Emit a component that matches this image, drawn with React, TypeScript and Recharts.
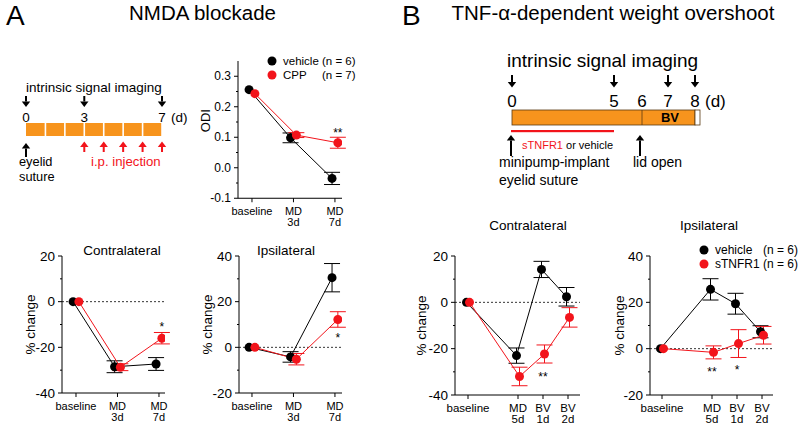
import React from 'react';
import { ComposedChart, Line, XAxis, YAxis, ErrorBar, ReferenceLine, ReferenceDot } from 'recharts';

const FONT = '"Liberation Sans", Arial, Helvetica, sans-serif';
const BLACK = '#000000';
const RED = '#f2141b';
const ORANGE = '#f7941d';

// x categories
const aCategories = ['baseline', 'MD\n3d', 'MD\n7d'];
const aSlots = [0, 1, 2];
const bCategories = ['baseline', 'MD\n5d', 'BV\n1d', 'BV\n2d'];
const bSlots = [0, 2, 3, 4];

// A - ODI
const odiVehicle = [0.256, 0.098, -0.035];
const odiVehicleErr = [0, 0.016, 0.02];
const odiCpp = [0.243, 0.107, 0.082];
const odiCppErr = [0, 0.008, 0.018];

// A - contralateral / ipsilateral (% change)
const aContraVehicle = [0, -28.5, -27.3];
const aContraVehicleErr = [0, 2.6, 2.8];
const aContraCpp = [0, -28.7, -16];
const aContraCppErr = [0, 1.5, 2.5];

const aIpsiVehicle = [0, -4.2, 30.5];
const aIpsiVehicleErr = [0, 2.3, 6.2];
const aIpsiCpp = [0, -5.2, 12.2];
const aIpsiCppErr = [0, 2.5, 3.4];

// B - contralateral / ipsilateral
const bContraVehicle = [0, -23, 14.2, 2.4];
const bContraVehicleErr = [0, 3.3, 3.5, 4];
const bContraTnf = [0, -32, -22.3, -6.5];
const bContraTnfErr = [0, 4, 3.9, 4.2];

const bIpsiVehicle = [0, 25.6, 19.4, 7.3];
const bIpsiVehicleErr = [0, 4.6, 4.5, 2.6];
const bIpsiTnf = [0, -1.6, 2.2, 5.8];
const bIpsiTnfErr = [0, 2.8, 6, 3.8];

// significance marks
const odiStars = [{ slot: 2, y: 0.115, mark: '**' }];
const aContraStars = [{ slot: 2, y: -11, mark: '*' }];
const aIpsiStars = [{ slot: 2, y: 4, mark: '*' }];
const bContraStars = [{ slot: 3, y: -32, mark: '**' }];
const bIpsiStars = [{ slot: 2, y: -10, mark: '**' }, { slot: 3, y: -9, mark: '*' }];

const odiTicks = [-0.1, -0.05, 0, 0.05, 0.1, 0.15, 0.2, 0.25, 0.3];
const contraTicks = [-40, -30, -20, -10, 0, 10, 20];
const ipsiTicks = [-20, -10, 0, 10, 20, 30, 40];

type Series = { color: string; values: number[]; errors: number[]; shift: number };
type Star = { slot: number; y: number; mark: string };

function XTick(props: any) {
  const { x, y, payload, slots, labels, fontSize } = props;
  const i = slots.indexOf(payload.value);
  const lines = (labels[i] ?? '').split('\n');
  return (
    <text x={x} y={y} textAnchor="middle" fontSize={fontSize} fill="#000">
      {lines.map((l: string, k: number) => (
        <tspan key={k} x={x} dy={k === 0 ? 10.5 : 11}>{l}</tspan>
      ))}
    </text>
  );
}

function YTick(props: any) {
  const { x, y, payload, isMajor, fmt, fontSize } = props;
  const v = payload.value;
  const major = isMajor(v);
  return (
    <g>
      <line x1={x + (major ? 3 : 5)} x2={x + 7} y1={y} y2={y} stroke="#000" strokeWidth={1} />
      {major && (
        <text x={x} y={y} textAnchor="end" dominantBaseline="central" fontSize={fontSize} fill="#000">
          {fmt(v)}
        </text>
      )}
    </g>
  );
}

function Plot(props: {
  box: { x0: number; x1: number; y0: number; y1: number };
  xDomain: number[];
  slots: number[];
  labels: string[];
  xFont: number;
  yDomain: number[];
  yTicks: number[];
  isMajor: (v: number) => boolean;
  fmt: (v: number) => string;
  yFont: number;
  yTitle: string;
  titleOffset: number;
  titleDy: number;
  titleFont: number;
  series: Series[];
  stars: Star[];
  starShift: number;
  zeroLine: boolean;
}) {
  const { box } = props;
  const ML = 50, MT = 10, MR = 12, MB = 36;
  const w = box.x1 - box.x0 + ML + MR;
  const h = box.y1 - box.y0 + MT + MB;
  const title = (p: any) => {
    const vb = p.viewBox;
    const x = vb.x + vb.width - props.titleOffset;
    const y = vb.y + vb.height / 2 + props.titleDy;
    return (
      <text x={x} y={y} transform={`rotate(-90 ${x} ${y})`} textAnchor="middle" dominantBaseline="central" fontSize={props.titleFont} fill="#000">
        {props.yTitle}
      </text>
    );
  };
  return (
    <div style={{ position: 'absolute', left: box.x0 - ML, top: box.y0 - MT }}>
      <ComposedChart width={w} height={h} margin={{ top: MT, right: MR, left: 0, bottom: 0 }}>
        <XAxis
          type="number"
          dataKey="x"
          domain={props.xDomain}
          ticks={props.slots}
          allowDataOverflow
          interval={0}
          height={MB}
          tickSize={4}
          tickLine={{ stroke: '#000' }}
          axisLine={{ stroke: '#000' }}
          tick={(p: any) => <XTick {...p} slots={props.slots} labels={props.labels} fontSize={props.xFont} />}
        />
        <YAxis
          type="number"
          domain={props.yDomain}
          ticks={props.yTicks}
          allowDataOverflow
          interval={0}
          width={ML}
          tickSize={4}
          tickMargin={3}
          tickLine={false}
          axisLine={{ stroke: '#000' }}
          tick={(p: any) => <YTick {...p} isMajor={props.isMajor} fmt={props.fmt} fontSize={props.yFont} />}
          label={title}
        />
        {props.zeroLine && <ReferenceLine y={0} stroke="#000" strokeWidth={0.8} strokeDasharray="2 2" />}
        {props.series.map((s, si) => (
          <Line
            key={si}
            data={s.values.map((v, i) => ({ x: props.slots[i] + s.shift, y: v, err: s.errors[i] }))}
            dataKey="y"
            type="linear"
            stroke={s.color}
            strokeWidth={1}
            dot={{ r: 4.5, fill: s.color, stroke: s.color, strokeWidth: 0 }}
            activeDot={false}
            isAnimationActive={false}
          >
            <ErrorBar dataKey="err" direction="y" width={8} stroke={s.color} strokeWidth={1} />
          </Line>
        ))}
        {props.stars.map((st, i) => (
          <ReferenceDot
            key={i}
            x={st.slot + props.starShift}
            y={st.y}
            r={1}
            fill="none"
            stroke="none"
            label={{ value: st.mark, position: 'center', fontSize: 12, fill: '#000' }}
          />
        ))}
      </ComposedChart>
    </div>
  );
}

const pctMajor = (v: number) => v % 20 === 0;
const pctFmt = (v: number) => String(v);
const odiMajor = (v: number) => Math.round(v * 20) % 2 === 0;
const odiFmt = (v: number) => v.toFixed(1);

function Arrow({ x, from, to, color }: { x: number; from: number; to: number; color: string }) {
  const dir = to > from ? 1 : -1;
  const head = 5.5;
  const base = to - dir * head;
  return (
    <g fill={color}>
      <rect x={x - 1} y={Math.min(from, base)} width={2} height={Math.abs(base - from)} />
      <polygon points={`${x - 4.2},${base} ${x + 4.2},${base} ${x},${to}`} />
    </g>
  );
}

const aDay = (d: number) => 26 + d * 19.43;
const aImagingDays = [0, 3, 7];
const aInjectionDays = [3, 4, 5, 6, 7];
const aBlocks = [0, 1, 2, 3, 4, 5, 6];

const bDayX: Record<number, number> = { 0: 512, 5: 614, 6: 642, 7: 668, 8: 695 };
const bImagingDays = [0, 5, 7, 8];
const bDayLabels = [0, 5, 6, 7, 8];

function Overlay() {
  return (
    <svg width={800} height={429} style={{ position: 'absolute', left: 0, top: 0, pointerEvents: 'none' }} fontFamily={FONT}>
      {/* panel headings */}
      <text x={6} y={25} fontSize={28}>A</text>
      <text x={202.5} y={20} fontSize={20.5} textAnchor="middle">NMDA blockade</text>
      <text x={402} y={25} fontSize={28}>B</text>
      <text x={613} y={20} fontSize={20.5} textAnchor="middle">TNF-α-dependent weight overshoot</text>

      {/* schematic A */}
      <text x={26} y={92} fontSize={13.5}>intrinsic signal imaging</text>
      {aImagingDays.map((d) => (
        <g key={d}>
          <Arrow x={aDay(d)} from={96} to={107} color={BLACK} />
          <text x={aDay(d)} y={121.5} fontSize={13.5} textAnchor="middle">{d}</text>
        </g>
      ))}
      <text x={171} y={121.5} fontSize={13.5}>(d)</text>
      {aBlocks.map((d) => (
        <rect key={d} x={aDay(d) + (d === 0 ? 0 : 0.8)} y={123} width={19.43 - (d === 0 ? 0.8 : 1.6)} height={13} fill={ORANGE} />
      ))}
      <Arrow x={aDay(0)} from={157} to={143} color={BLACK} />
      <text x={19} y={166} fontSize={12.8}>eyelid</text>
      <text x={19} y={180.5} fontSize={12.8}>suture</text>
      {aInjectionDays.map((d) => (
        <Arrow key={d} x={aDay(d)} from={152} to={141.5} color={RED} />
      ))}
      <text x={91} y={166} fontSize={13.2} fill={RED}>i.p. injection</text>

      {/* schematic B */}
      <text x={507} y={67} fontSize={19}>intrinsic signal imaging</text>
      {bImagingDays.map((d) => (
        <Arrow key={d} x={bDayX[d]} from={75} to={87.5} color={BLACK} />
      ))}
      {bDayLabels.map((d) => (
        <text key={d} x={bDayX[d]} y={107} fontSize={17} textAnchor="middle">{d}</text>
      ))}
      <text x={705} y={107} fontSize={17}>(d)</text>
      <rect x={512} y={110} width={183} height={15} fill={ORANGE} stroke="#5a3a12" strokeWidth={0.8} />
      <rect x={695} y={110} width={5} height={15} fill="#fff" stroke="#5a3a12" strokeWidth={0.8} />
      <line x1={642} x2={642} y1={110} y2={125} stroke="#5a3a12" strokeWidth={0.8} />
      <text x={670} y={122} fontSize={13} fontWeight="bold" textAnchor="middle">BV</text>
      <rect x={511} y={130} width={103} height={2.2} fill={RED} />
      <Arrow x={511} from={156} to={135} color={BLACK} />
      <Arrow x={640} from={156} to={135} color={BLACK} />
      <text x={522} y={149} fontSize={11}>
        <tspan fill={RED}>sTNFR1</tspan>
        <tspan fill="#000"> or vehicle</tspan>
      </text>
      <text x={499} y={167} fontSize={14}>minipump-implant</text>
      <text x={499} y={185} fontSize={14}>eyelid suture</text>
      <text x={633} y={167} fontSize={14}>lid open</text>

      {/* plot titles */}
      <text x={122} y={250} fontSize={13.5} textAnchor="middle" dominantBaseline="central">Contralateral</text>
      <text x={286} y={250} fontSize={13.5} textAnchor="middle" dominantBaseline="central">Ipsilateral</text>
      <text x={528} y={225} fontSize={13.5} textAnchor="middle" dominantBaseline="central">Contralateral</text>
      <text x={709} y={225} fontSize={13.5} textAnchor="middle" dominantBaseline="central">Ipsilateral</text>

      {/* legend A */}
      <circle cx={272} cy={61} r={4.5} fill={BLACK} />
      <text x={283} y={61} fontSize={11.5} dominantBaseline="central">vehicle</text>
      <text x={322} y={61} fontSize={11.5} dominantBaseline="central">(n = 6)</text>
      <circle cx={272} cy={75} r={4.5} fill={RED} />
      <text x={283} y={75} fontSize={11.5} dominantBaseline="central">CPP</text>
      <text x={322} y={75} fontSize={11.5} dominantBaseline="central">(n = 7)</text>

      {/* legend B */}
      <circle cx={704} cy={250} r={4.5} fill={BLACK} />
      <text x={715} y={250} fontSize={12} dominantBaseline="central">vehicle</text>
      <text x={763} y={250} fontSize={12} dominantBaseline="central">(n = 6)</text>
      <circle cx={704} cy={264} r={4.5} fill={RED} />
      <text x={715} y={264} fontSize={12} dominantBaseline="central">sTNFR1 (n = 6)</text>
    </svg>
  );
}

export default function App() {
  const aShift = 0.07;
  const bShift = 0.06;
  return (
    <div style={{ position: 'absolute', left: 0, top: 0, width: 800, height: 429, background: '#fff', fontFamily: FONT, overflow: 'hidden' }}>
      <Plot
        box={{ x0: 238, x1: 342, y0: 60.75, y1: 198 }}
        xDomain={[-0.337, 2.17]}
        slots={aSlots}
        labels={aCategories}
        xFont={11}
        yDomain={[-0.1, 0.35]}
        yTicks={odiTicks}
        isMajor={odiMajor}
        fmt={odiFmt}
        yFont={12}
        yTitle="ODI"
        titleOffset={33}
        titleDy={-9}
        titleFont={13}
        series={[
          { color: BLACK, values: odiVehicle, errors: odiVehicleErr, shift: -aShift },
          { color: RED, values: odiCpp, errors: odiCppErr, shift: aShift },
        ]}
        stars={odiStars}
        starShift={aShift}
        zeroLine={false}
      />
      <Plot
        box={{ x0: 62, x1: 165, y0: 256, y1: 393 }}
        xDomain={[-0.337, 2.145]}
        slots={aSlots}
        labels={aCategories}
        xFont={11}
        yDomain={[-40, 20]}
        yTicks={contraTicks}
        isMajor={pctMajor}
        fmt={pctFmt}
        yFont={13.5}
        yTitle="% change"
        titleOffset={32}
        titleDy={0}
        titleFont={13.5}
        series={[
          { color: BLACK, values: aContraVehicle, errors: aContraVehicleErr, shift: -aShift },
          { color: RED, values: aContraCpp, errors: aContraCppErr, shift: aShift },
        ]}
        stars={aContraStars}
        starShift={aShift}
        zeroLine
      />
      <Plot
        box={{ x0: 239, x1: 342, y0: 256, y1: 393 }}
        xDomain={[-0.313, 2.17]}
        slots={aSlots}
        labels={aCategories}
        xFont={11}
        yDomain={[-20, 40]}
        yTicks={ipsiTicks}
        isMajor={pctMajor}
        fmt={pctFmt}
        yFont={13.5}
        yTitle="% change"
        titleOffset={32}
        titleDy={0}
        titleFont={13.5}
        series={[
          { color: BLACK, values: aIpsiVehicle, errors: aIpsiVehicleErr, shift: -aShift },
          { color: RED, values: aIpsiCpp, errors: aIpsiCppErr, shift: aShift },
        ]}
        stars={aIpsiStars}
        starShift={aShift}
        zeroLine
      />
      <Plot
        box={{ x0: 455, x1: 580, y0: 256, y1: 395 }}
        xDomain={[-0.52, 4.48]}
        slots={bSlots}
        labels={bCategories}
        xFont={11.5}
        yDomain={[-40, 20]}
        yTicks={contraTicks}
        isMajor={pctMajor}
        fmt={pctFmt}
        yFont={13.5}
        yTitle="% change"
        titleOffset={34}
        titleDy={0}
        titleFont={13.5}
        series={[
          { color: BLACK, values: bContraVehicle, errors: bContraVehicleErr, shift: -bShift },
          { color: RED, values: bContraTnf, errors: bContraTnfErr, shift: bShift },
        ]}
        stars={bContraStars}
        starShift={0}
        zeroLine
      />
      <Plot
        box={{ x0: 650, x1: 773, y0: 256, y1: 395 }}
        xDomain={[-0.48, 4.44]}
        slots={bSlots}
        labels={bCategories}
        xFont={11.5}
        yDomain={[-20, 40]}
        yTicks={ipsiTicks}
        isMajor={pctMajor}
        fmt={pctFmt}
        yFont={13.5}
        yTitle="% change"
        titleOffset={30.5}
        titleDy={0}
        titleFont={13.5}
        series={[
          { color: BLACK, values: bIpsiVehicle, errors: bIpsiVehicleErr, shift: -bShift },
          { color: RED, values: bIpsiTnf, errors: bIpsiTnfErr, shift: bShift },
        ]}
        stars={bIpsiStars}
        starShift={0}
        zeroLine
      />
      <Overlay />
    </div>
  );
}
